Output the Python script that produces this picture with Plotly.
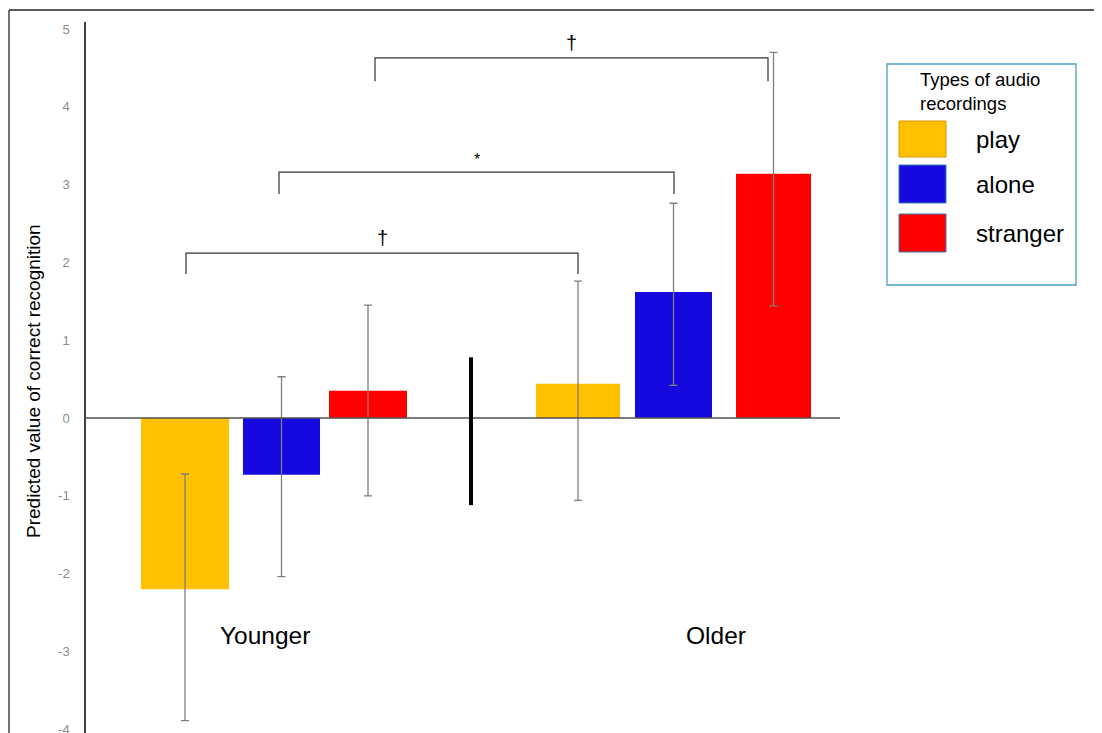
import plotly.graph_objects as go

# ---------------- data ----------------
groups = ["Younger", "Older"]
types = ["play", "alone", "stranger"]
colors = ["#FFC000", "#1609E0", "#FF0000"]
# predicted values per type: [Younger, Older]
values = {
    "play": [-2.20, 0.44],
    "alone": [-0.73, 1.62],
    "stranger": [0.35, 3.14],
}
ci_upper = {
    "play": [-0.72, 1.76],
    "alone": [0.53, 2.76],
    "stranger": [1.45, 4.70],
}
ci_lower = {
    "play": [-3.89, -1.06],
    "alone": [-2.04, 0.42],
    "stranger": [-1.00, 1.44],
}
tick_vals = [-4, -3, -2, -1, 0, 1, 2, 3, 4, 5]
tick_text = [str(v) for v in tick_vals]
y_title = "Predicted value of correct recognition"
legend_title = "Types of audio<br>recordings"
# significance brackets: (left bar, right bar, label)
brackets = [(("Younger", "play"), ("Older", "play"), "†"),
            (("Younger", "alone"), ("Older", "alone"), "*"),
            (("Younger", "stranger"), ("Older", "stranger"), "†")]

# ---------------- layout constants ----------------
OFF = 8  # page body margin
W, H = 1102 - OFF, 733 - OFF
L, T, B = 86 - OFF, 22 - OFF, 0
R = W - (840 - OFF)
PW, PH = W - L - R, H - T - B
# horizontal positions (x axis in plot units 0..PW)
x_pos = {"Younger": [99, 195.5, 282], "Older": [492, 587.5, 687.5]}
x_wid = {"Younger": [88, 77, 78], "Older": [84, 77, 75]}
sep_x = 385
bracket_x = [(100, 492), (193, 588), (289, 682)]
bracket_y = [(2.12, 1.85), (3.16, 2.88), (4.63, 4.33)]
group_label_x = [179, 630]
y_unit = 77.8
y_top = (418 - 22) / y_unit
y_bot = -(733 - 418) / y_unit

FONT = "Liberation Sans, Arial"


def ppx(x):
    return (x - OFF - L) / PW


def ppy(y):
    return (H - (y - OFF)) / PH


fig = go.Figure()
for i, t in enumerate(types):
    xs = [x_pos[g][i] for g in groups]
    ws = [x_wid[g][i] for g in groups]
    ys = values[t]
    up = [u - v for u, v in zip(ci_upper[t], ys)]
    dn = [v - l for l, v in zip(ci_lower[t], ys)]
    fig.add_trace(go.Bar(
        x=xs, y=ys, width=ws, name=t,
        marker=dict(color=colors[i], line=dict(width=0)),
        error_y=dict(type="data", symmetric=False, array=up, arrayminus=dn,
                     color="#7f7f7f", thickness=1.3, width=4),
        showlegend=False,
    ))

shapes = []
# zero line
shapes.append(dict(type="line", xref="x", yref="y", x0=0, x1=PW, y0=0, y1=0,
                   line=dict(color="#505050", width=1.5), layer="above"))
# separator
shapes.append(dict(type="line", xref="x", yref="y", x0=sep_x, x1=sep_x, y0=0.78, y1=-1.12,
                   line=dict(color="#000000", width=4), layer="above"))
annotations = []
for (xa, xb), (yh, yl), (_, _, lab) in zip(bracket_x, bracket_y, brackets):
    shapes.append(dict(type="path", xref="x", yref="y",
                       path=f"M {xa},{yl} L {xa},{yh} L {xb},{yh} L {xb},{yl}",
                       line=dict(color="#333333", width=1.2)))
    annotations.append(dict(x=(xa + xb) / 2, y=yh, xref="x", yref="y", text=lab,
                            showarrow=False, xanchor="center", yanchor="bottom", yshift=2,
                            font=dict(size=20 if lab == "†" else 16, color="#000", family=FONT)))
for g, gx in zip(groups, group_label_x):
    annotations.append(dict(x=gx, y=-2.79, xref="x", yref="y", text=g, showarrow=False,
                            xanchor="center", yanchor="middle",
                            font=dict(size=24.5, color="#000", family=FONT)))

# outer frame
shapes.append(dict(type="line", xref="paper", yref="paper", x0=ppx(9), x1=ppx(1110),
                   y0=ppy(10), y1=ppy(10), line=dict(color="#222", width=1.5)))
shapes.append(dict(type="line", xref="paper", yref="paper", x0=ppx(9), x1=ppx(9),
                   y0=ppy(10), y1=ppy(740), line=dict(color="#444", width=1.5)))

# y title
annotations.append(dict(x=ppx(33), y=ppy(381), xref="paper", yref="paper", text=y_title,
                        textangle=-90, showarrow=False, xanchor="center", yanchor="middle",
                        font=dict(size=19, color="#000", family=FONT)))

# custom legend
shapes.append(dict(type="rect", xref="paper", yref="paper", x0=ppx(887), x1=ppx(1076),
                   y0=ppy(285), y1=ppy(64), line=dict(color="#4A9CC4", width=1.3),
                   fillcolor="white"))
annotations.append(dict(x=ppx(918), y=ppy(91), xref="paper", yref="paper", text=legend_title,
                        showarrow=False, xanchor="left", yanchor="middle", align="left",
                        font=dict(size=18.5, color="#000", family=FONT)))
sw_y = [(121, 157), (165, 203), (214, 252)]
sw_border = ["#D69A00", "#3A7BB0", "#3A7BB0"]
for t, c, (y0, y1), bc in zip(types, colors, sw_y, sw_border):
    shapes.append(dict(type="rect", xref="paper", yref="paper", x0=ppx(899), x1=ppx(946),
                       y0=ppy(y1), y1=ppy(y0), fillcolor=c, line=dict(color=bc, width=1)))
    annotations.append(dict(x=ppx(974), y=ppy((y0 + y1) / 2), xref="paper", yref="paper",
                            text=t, showarrow=False, xanchor="left", yanchor="middle",
                            font=dict(size=24, color="#000", family=FONT)))

fig.update_layout(
    width=W, height=H,
    margin=dict(l=L, r=R, t=T, b=B, pad=0, autoexpand=False),
    paper_bgcolor="white", plot_bgcolor="white",
    barmode="overlay",
    xaxis=dict(range=[0, PW], visible=False, showgrid=False, zeroline=False,
               automargin=False),
    yaxis=dict(range=[y_bot, y_top], tickvals=tick_vals, ticktext=tick_text,
               showgrid=False, zeroline=False, automargin=False,
               showline=True, linecolor="#404040", linewidth=1.5, ticks="",
               ticklabelstandoff=12, ticklabeloverflow="allow",
               tickfont=dict(size=13, color="#8c8c8c", family=FONT)),
    shapes=shapes, annotations=annotations,
    showlegend=False,
)
fig.write_html("out.html")
